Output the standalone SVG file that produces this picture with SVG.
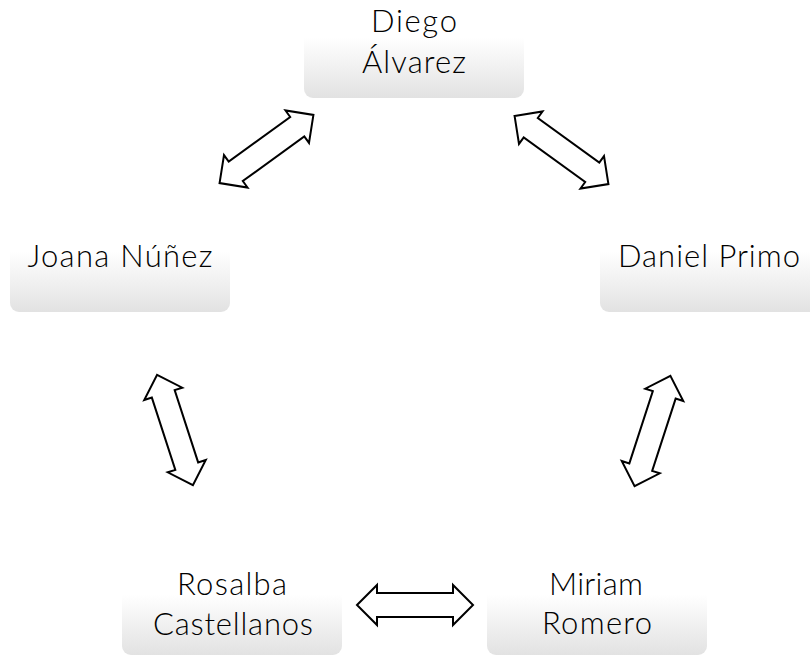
<svg xmlns="http://www.w3.org/2000/svg" width="810" height="656" viewBox="0 0 810 656">
<defs>
<linearGradient id="boxGrad" x1="0" y1="0" x2="0" y2="1">
<stop offset="0" stop-color="#ffffff"/>
<stop offset="0.45" stop-color="#ffffff"/>
<stop offset="1" stop-color="#e2e2e2"/>
</linearGradient>
<polygon id="dbl" points="-58,0 -38,-20 -38,-12 38,-12 38,-20 58,0 38,20 38,12 -38,12 -38,20"/>
</defs>
<style>
.box{fill:url(#boxGrad);}
.lbl{font-family:"Lato","Noto Sans",sans-serif;font-weight:300;font-size:31px;fill:#000;text-anchor:middle;}
.arr{fill:#fff;stroke:#000;stroke-width:2;stroke-linejoin:miter;}
</style>
<rect width="810" height="656" fill="#fff"/>
<g id="connectors">
<use href="#dbl" class="arr" transform="translate(266.5,149) rotate(-36)"/>
<use href="#dbl" class="arr" transform="translate(561.5,150) rotate(36)"/>
<use href="#dbl" class="arr" transform="translate(175,430) rotate(72)"/>
<use href="#dbl" class="arr" transform="translate(652.5,431) rotate(108)"/>
<use href="#dbl" class="arr" transform="translate(415,605)"/>
</g>
<g id="node-diego">
<rect class="box" x="304" y="-12" width="220" height="110" rx="9"/>
<text class="lbl" x="414" y="32" textLength="86">Diego</text>
<text class="lbl" x="414" y="73" textLength="104">Álvarez</text>
</g>
<g id="node-joana">
<rect class="box" x="10" y="202" width="220" height="110" rx="9"/>
<text class="lbl" x="120" y="267" textLength="185">Joana Núñez</text>
</g>
<g id="node-daniel">
<rect class="box" x="600" y="202" width="220" height="110" rx="9"/>
<text class="lbl" x="709" y="267" textLength="182">Daniel Primo</text>
</g>
<g id="node-rosalba">
<rect class="box" x="122" y="545" width="220" height="110" rx="9"/>
<text class="lbl" x="232" y="595" textLength="110">Rosalba</text>
<text class="lbl" x="233" y="635" textLength="160">Castellanos</text>
</g>
<g id="node-miriam">
<rect class="box" x="487" y="545" width="220" height="110" rx="9"/>
<text class="lbl" x="596" y="595" textLength="94">Miriam</text>
<text class="lbl" x="597" y="634" textLength="110">Romero</text>
</g>
</svg>
